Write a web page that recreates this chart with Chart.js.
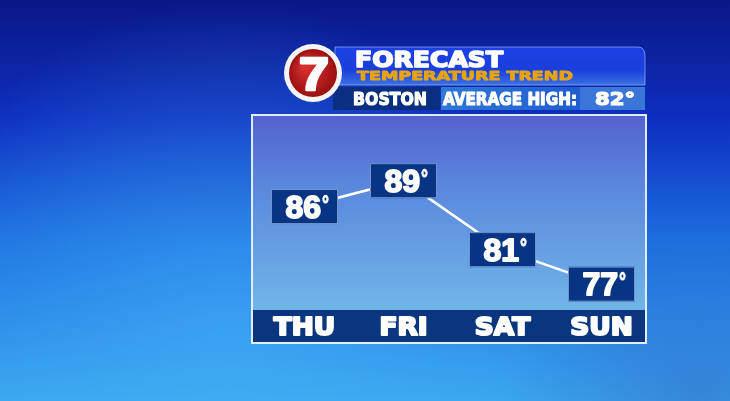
<!DOCTYPE html>
<html>
<head>
<meta charset="utf-8">
<script src="https://cdn.jsdelivr.net/npm/chart.js@4"></script>
<style>
  html, body { margin: 0; padding: 0; background: #0f3ad0; }
  #wrap { width: 730px; height: 401px; }
</style>
</head>
<body>
<div id="wrap"><canvas id="grafico" width="730" height="401"></canvas></div>
<script>
const dias = ["THU", "FRI", "SAT", "SUN"];
const maximas = [86, 89, 81, 77];
const cidade = "BOSTON";
const mediaLabel = "AVERAGE HIGH:";
const mediaMaxima = 82;

// fits text to a target width, with an optional stroke to make it heavier
function textoLargura(ctx, txt, x, y, largura, grosso) {
  const w = ctx.measureText(txt).width;
  const s = largura / w;
  ctx.save();
  ctx.translate(x, y);
  ctx.scale(s, 1);
  ctx.textAlign = "left";
  if (grosso) {
    ctx.lineJoin = "round";
    ctx.lineWidth = grosso;
    ctx.strokeStyle = ctx.fillStyle;
    ctx.strokeText(txt, 0, 0);
  }
  ctx.fillText(txt, 0, 0);
  ctx.restore();
}

const fundo = {
  id: "fundo",
  beforeDraw(chart) {
    const ctx = chart.ctx;
    ctx.save();
    let g = ctx.createLinearGradient(0, 0, 0, 401);
    g.addColorStop(0, "#0a1786");
    g.addColorStop(0.3, "#0e2fc0");
    g.addColorStop(0.6, "#1c6fe0");
    g.addColorStop(1, "#3aa6ee");
    ctx.fillStyle = g;
    ctx.fillRect(0, 0, 730, 401);
    let r = ctx.createRadialGradient(230, 330, 10, 230, 330, 330);
    r.addColorStop(0, "rgba(70,180,250,0.5)");
    r.addColorStop(1, "rgba(70,180,250,0)");
    ctx.fillStyle = r;
    ctx.fillRect(0, 0, 730, 401);
    let d = ctx.createRadialGradient(700, 400, 10, 700, 400, 200);
    d.addColorStop(0, "rgba(50,100,195,0.45)");
    d.addColorStop(1, "rgba(50,100,195,0)");
    ctx.fillStyle = d;
    ctx.fillRect(0, 0, 730, 401);

    // painel
    let p = ctx.createLinearGradient(0, 114, 0, 312);
    p.addColorStop(0, "#5361cf");
    p.addColorStop(0.35, "#5a86dc");
    p.addColorStop(1, "#70b6e8");
    ctx.fillStyle = p;
    ctx.fillRect(252, 115, 394, 228);
    ctx.fillStyle = "#0a3680";
    ctx.fillRect(253, 310, 392, 32);
    ctx.strokeStyle = "rgba(235,242,255,0.95)";
    ctx.lineWidth = 2;
    ctx.strokeRect(252, 115, 394, 228);

    // cabecalho
    let h = ctx.createLinearGradient(0, 47, 0, 85);
    h.addColorStop(0, "#1d40e6");
    h.addColorStop(0.6, "#1a3fdc");
    h.addColorStop(1, "#3b6fe2");
    ctx.fillStyle = h;
    ctx.beginPath();
    ctx.moveTo(335, 47);
    ctx.lineTo(638, 47);
    ctx.quadraticCurveTo(645, 47, 645, 56);
    ctx.lineTo(645, 85);
    ctx.lineTo(335, 85);
    ctx.closePath();
    ctx.fill();
    ctx.strokeStyle = "rgba(150,180,255,0.7)";
    ctx.lineWidth = 1;
    ctx.stroke();

    ctx.fillStyle = "#0a2f80";
    ctx.fillRect(333, 87, 107, 23);
    let a = ctx.createLinearGradient(441, 0, 580, 0);
    a.addColorStop(0, "#2f78d6");
    a.addColorStop(1, "#1e5cd0");
    ctx.fillStyle = a;
    ctx.fillRect(441, 87, 139, 23);
    ctx.fillStyle = "#3a76d8";
    ctx.fillRect(580, 87, 65, 23);

    ctx.fillStyle = "#ffffff";
    ctx.textBaseline = "alphabetic";
    ctx.font = "bold 21px 'DejaVu Sans'";
    textoLargura(ctx, "FORECAST", 355, 67, 148, 1.6);
    ctx.fillStyle = "#e6a414";
    ctx.font = "bold 12px 'DejaVu Sans'";
    textoLargura(ctx, "TEMPERATURE TREND", 357, 80, 216, 0.9);
    ctx.fillStyle = "#ffffff";
    ctx.font = "bold 17px 'DejaVu Sans'";
    textoLargura(ctx, cidade, 353, 105, 74, 1.2);
    textoLargura(ctx, mediaLabel, 443, 105, 134, 1.2);
    textoLargura(ctx, mediaMaxima + "°", 595, 105, 40, 1.2);

    // logo 7
    ctx.beginPath();
    ctx.arc(313, 73, 29, 0, Math.PI * 2);
    ctx.fillStyle = "#f4f4f4";
    ctx.fill();
    let rg = ctx.createRadialGradient(306, 66, 3, 313, 73, 24);
    rg.addColorStop(0, "#d83030");
    rg.addColorStop(1, "#9a1010");
    ctx.beginPath();
    ctx.arc(313, 73, 24, 0, Math.PI * 2);
    ctx.fillStyle = rg;
    ctx.fill();
    ctx.fillStyle = "#ffffff";
    ctx.font = "bold 46px 'Liberation Sans'";
    textoLargura(ctx, "7", 299, 90, 30, 2.5);
    ctx.restore();
  }
};

const caixas = {
  id: "caixas",
  afterDatasetsDraw(chart) {
    const ctx = chart.ctx;
    const xs = chart.scales.x;
    const ys = chart.scales.y;
    ctx.save();
    ctx.textBaseline = "alphabetic";
    maximas.forEach((v, i) => {
      const x = xs.getPixelForValue(i);
      const y = ys.getPixelForValue(v);
      const w = 67, hh = 35;
      ctx.fillStyle = "#083583";
      ctx.fillRect(x - w / 2, y - hh / 2, w, hh);
      ctx.strokeStyle = "rgba(140,170,220,0.8)";
      ctx.lineWidth = 1;
      ctx.strokeRect(x - w / 2 + 0.5, y - hh / 2 + 0.5, w - 1, hh - 1);
      let tg = ctx.createLinearGradient(0, y - 11, 0, y + 12);
      tg.addColorStop(0, "#ffffff");
      tg.addColorStop(0.5, "#f2f2f2");
      tg.addColorStop(1, "#bdbdbd");
      ctx.fillStyle = tg;
      ctx.font = "bold 32px 'Liberation Sans'";
      const num = String(v);
      const wn = ctx.measureText(num).width;
      textoLargura(ctx, num, x - 19, y + 11, wn, 1.8);
      ctx.font = "bold 24px 'Liberation Sans'";
      textoLargura(ctx, "°", x - 18 + wn, y + 5, 7, 0.8);
    });
    ctx.fillStyle = "#ffffff";
    ctx.font = "bold 24px 'DejaVu Sans'";
    dias.forEach((d, i) => {
      const x = xs.getPixelForValue(i);
      const w = ctx.measureText(d).width * 1.1;
      textoLargura(ctx, d, x - w / 2, 335, w, 2);
    });
    ctx.restore();
  }
};

new Chart(document.getElementById("grafico"), {
  type: "line",
  data: {
    labels: dias,
    datasets: [{
      data: maximas,
      borderColor: "#ffffff",
      borderWidth: 2.5,
      pointRadius: 0,
      tension: 0
    }]
  },
  options: {
    responsive: false,
    animation: false,
    layout: { padding: { left: 255, right: 79, top: 116, bottom: 91 } },
    plugins: { legend: { display: false }, tooltip: { enabled: false } },
    scales: {
      x: { display: false, offset: true },
      y: { display: false, min: 74, max: 96.5 }
    }
  },
  plugins: [fundo, caixas]
});
</script>
</body>
</html>
